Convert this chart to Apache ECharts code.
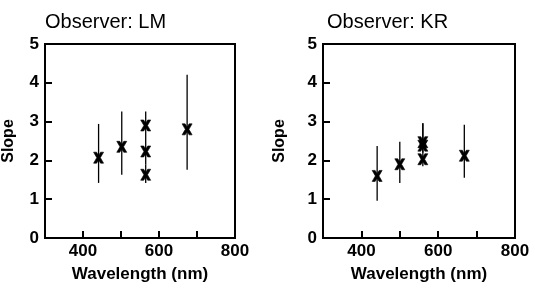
<!DOCTYPE html>
<html>
<head>
<meta charset="utf-8">
<script src="https://cdn.jsdelivr.net/npm/echarts@6/dist/echarts.min.js"></script>
<style>
  html, body { margin: 0; padding: 0; background: #fff; }
  #chart { width: 535px; height: 288px; }
</style>
</head>
<body>
<div id="chart"></div>
<script>
(function () {
    // Observer LM
    const lmWave = [441, 502, 565, 565, 565, 674];
    const lmSlope = [2.07, 2.35, 2.9, 2.23, 1.63, 2.8];
    const lmLow = [1.42, 1.63, 2.55, 1.9, 1.42, 1.76];
    const lmHigh = [2.94, 3.26, 3.26, 2.55, 1.9, 4.21];

    // Observer KR
    const krWave = [441, 500, 560, 560, 560, 668];
    const krSlope = [1.6, 1.9, 2.47, 2.38, 2.03, 2.12];
    const krLow = [0.96, 1.42, 2.2, 2.2, 1.85, 1.55];
    const krHigh = [2.37, 2.48, 2.96, 2.96, 2.2, 2.92];

    const titles = ['Observer: LM', 'Observer: KR'];
    const xTickLabels = [400, 600, 800];

    let chart = echarts.init(document.querySelector('#chart'), null, { renderer: 'canvas' });

    const font = "'Liberation Sans', Arial, sans-serif";
    // fat cross, as in the printed figure
    const cross = 'path://M0,0 L3,0 L5,3 L7,0 L10,0 L6.8,5 L10,10 L7,10 L5,7 L3,10 L0,10 L3.2,5 Z';

    function xAxis(i) {
        return {
            type: 'value', gridIndex: i, min: 300, max: 800, interval: 100,
            name: 'Wavelength (nm)', nameLocation: 'middle', nameGap: 28,
            nameTextStyle: { color: '#000', fontSize: 17, fontWeight: 'bold', fontFamily: font },
            axisLine: { show: false },
            axisTick: { show: true, inside: true, length: 7, lineStyle: { color: '#000', width: 2 } },
            splitLine: { show: false },
            axisLabel: {
                color: '#000', fontSize: 17, fontWeight: 'bold', fontFamily: font, margin: 5,
                formatter: v => xTickLabels.indexOf(v) >= 0 ? String(v) : ''
            }
        };
    }

    function yAxis(i, gap) {
        return {
            type: 'value', gridIndex: i, min: 0, max: 5, interval: 1,
            name: 'Slope', nameLocation: 'middle', nameGap: gap, nameRotate: 90,
            nameTextStyle: { color: '#000', fontSize: 16, fontWeight: 'bold', fontFamily: font },
            axisLine: { show: false },
            axisTick: { show: true, inside: true, length: 7, lineStyle: { color: '#000', width: 2 } },
            splitLine: { show: false },
            axisLabel: { color: '#000', fontSize: 17, fontWeight: 'bold', fontFamily: font, margin: 6 }
        };
    }

    function errorSeries(i, wave, low, high) {
        return {
            type: 'custom', xAxisIndex: i, yAxisIndex: i, silent: true,
            data: wave.map((w, k) => [w, low[k], high[k]]),
            renderItem: function (params, api) {
                let a = api.coord([api.value(0), api.value(1)]);
                let b = api.coord([api.value(0), api.value(2)]);
                return {
                    type: 'line',
                    shape: { x1: a[0], y1: a[1], x2: b[0], y2: b[1] },
                    style: { stroke: '#000', lineWidth: 1.3 }
                };
            },
            z: 2
        };
    }

    function pointSeries(i, wave, slope) {
        return {
            type: 'scatter', xAxisIndex: i, yAxisIndex: i,
            symbol: cross, symbolSize: [10, 11], symbolKeepAspect: false,
            itemStyle: { color: '#000', opacity: 1, borderColor: '#000', borderWidth: 0.6 },
            data: wave.map((w, k) => [w, slope[k]]),
            z: 3
        };
    }

    let option = {
        backgroundColor: '#fff',
        animation: false,
        title: [
            { text: titles[0], left: 40, top: 7, textStyle: { color: '#000', fontSize: 20, fontWeight: 'normal', fontFamily: font } },
            { text: titles[1], left: 322, top: 7, textStyle: { color: '#000', fontSize: 20, fontWeight: 'normal', fontFamily: font } }
        ],
        grid: [
            { left: 43, top: 44, width: 192, height: 196, show: true, borderColor: '#000', borderWidth: 2, backgroundColor: 'transparent' },
            { left: 323, top: 44, width: 192, height: 196, show: true, borderColor: '#000', borderWidth: 2, backgroundColor: 'transparent' }
        ],
        xAxis: [xAxis(0), xAxis(1)],
        yAxis: [yAxis(0, 28), yAxis(1, 35)],
        series: [
            errorSeries(0, lmWave, lmLow, lmHigh),
            pointSeries(0, lmWave, lmSlope),
            errorSeries(1, krWave, krLow, krHigh),
            pointSeries(1, krWave, krSlope)
        ]
    };

    chart.setOption(option);
})();
</script>
</body>
</html>
